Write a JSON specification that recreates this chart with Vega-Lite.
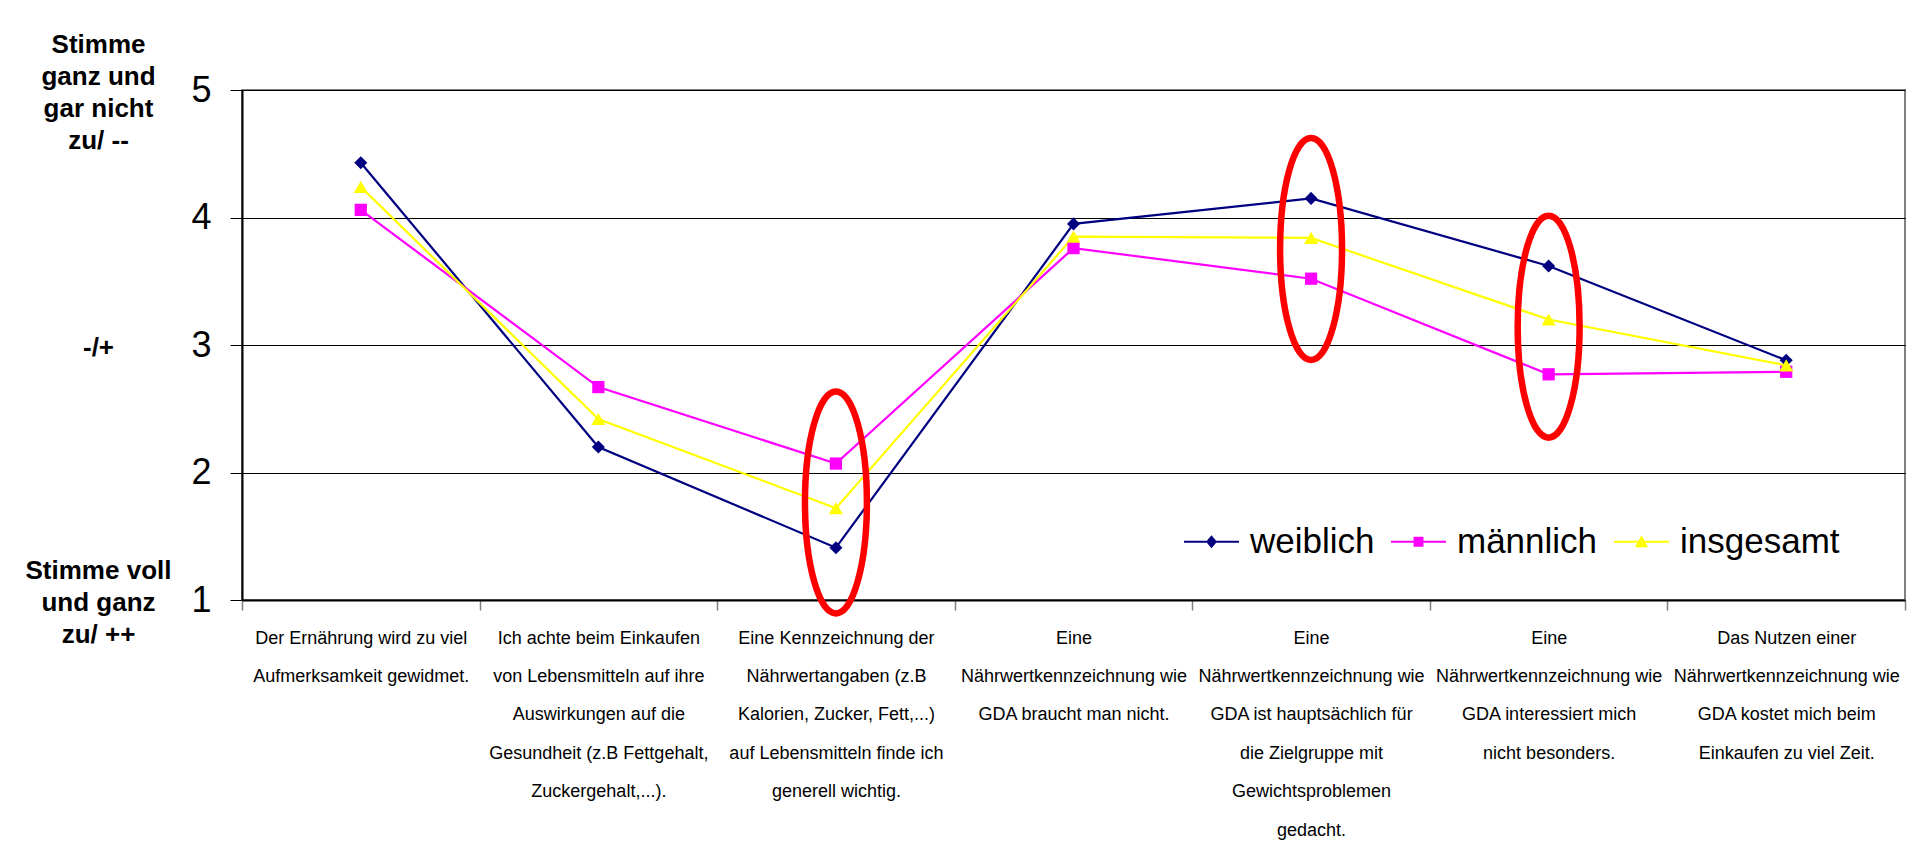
{
  "$schema": "https://vega.github.io/schema/vega-lite/v6.json",
  "width": 1663,
  "height": 510,
  "autosize": {"type": "none"},
  "padding": {"left": 242, "top": 90, "right": 26, "bottom": 249},
  "background": "white",
  "config": {
    "font": "Liberation Sans",
    "view": {"stroke": "#808080", "strokeWidth": 2},
    "axis": {"labelColor": "#000000", "domainColor": "#000000", "tickColor": "#000000", "gridColor": "#000000", "titleColor": "#000000"}
  },
  "datasets": {
    "werte": [
      {"aussage": "Der Ernährung wird zu viel\nAufmerksamkeit gewidmet.", "gruppe": "weiblich", "wert": 4.43},
      {"aussage": "Der Ernährung wird zu viel\nAufmerksamkeit gewidmet.", "gruppe": "männlich", "wert": 4.06},
      {"aussage": "Der Ernährung wird zu viel\nAufmerksamkeit gewidmet.", "gruppe": "insgesamt", "wert": 4.24},
      {"aussage": "Ich achte beim Einkaufen\nvon Lebensmitteln auf ihre\nAuswirkungen auf die\nGesundheit (z.B Fettgehalt,\nZuckergehalt,...).", "gruppe": "weiblich", "wert": 2.2},
      {"aussage": "Ich achte beim Einkaufen\nvon Lebensmitteln auf ihre\nAuswirkungen auf die\nGesundheit (z.B Fettgehalt,\nZuckergehalt,...).", "gruppe": "männlich", "wert": 2.67},
      {"aussage": "Ich achte beim Einkaufen\nvon Lebensmitteln auf ihre\nAuswirkungen auf die\nGesundheit (z.B Fettgehalt,\nZuckergehalt,...).", "gruppe": "insgesamt", "wert": 2.42},
      {"aussage": "Eine Kennzeichnung der\nNährwertangaben (z.B\nKalorien, Zucker, Fett,...)\nauf Lebensmitteln finde ich\ngenerell wichtig.", "gruppe": "weiblich", "wert": 1.41},
      {"aussage": "Eine Kennzeichnung der\nNährwertangaben (z.B\nKalorien, Zucker, Fett,...)\nauf Lebensmitteln finde ich\ngenerell wichtig.", "gruppe": "männlich", "wert": 2.07},
      {"aussage": "Eine Kennzeichnung der\nNährwertangaben (z.B\nKalorien, Zucker, Fett,...)\nauf Lebensmitteln finde ich\ngenerell wichtig.", "gruppe": "insgesamt", "wert": 1.72},
      {"aussage": "Eine\nNährwertkennzeichnung wie\nGDA braucht man nicht.", "gruppe": "weiblich", "wert": 3.95},
      {"aussage": "Eine\nNährwertkennzeichnung wie\nGDA braucht man nicht.", "gruppe": "männlich", "wert": 3.76},
      {"aussage": "Eine\nNährwertkennzeichnung wie\nGDA braucht man nicht.", "gruppe": "insgesamt", "wert": 3.85},
      {"aussage": "Eine\nNährwertkennzeichnung wie\nGDA ist hauptsächlich für\ndie Zielgruppe mit\nGewichtsproblemen\ngedacht.", "gruppe": "weiblich", "wert": 4.15},
      {"aussage": "Eine\nNährwertkennzeichnung wie\nGDA ist hauptsächlich für\ndie Zielgruppe mit\nGewichtsproblemen\ngedacht.", "gruppe": "männlich", "wert": 3.52},
      {"aussage": "Eine\nNährwertkennzeichnung wie\nGDA ist hauptsächlich für\ndie Zielgruppe mit\nGewichtsproblemen\ngedacht.", "gruppe": "insgesamt", "wert": 3.84},
      {"aussage": "Eine \nNährwertkennzeichnung wie\nGDA interessiert mich\nnicht besonders.", "gruppe": "weiblich", "wert": 3.62},
      {"aussage": "Eine \nNährwertkennzeichnung wie\nGDA interessiert mich\nnicht besonders.", "gruppe": "männlich", "wert": 2.77},
      {"aussage": "Eine \nNährwertkennzeichnung wie\nGDA interessiert mich\nnicht besonders.", "gruppe": "insgesamt", "wert": 3.2},
      {"aussage": "Das Nutzen einer\nNährwertkennzeichnung wie\nGDA kostet mich beim\nEinkaufen zu viel Zeit.", "gruppe": "weiblich", "wert": 2.88},
      {"aussage": "Das Nutzen einer\nNährwertkennzeichnung wie\nGDA kostet mich beim\nEinkaufen zu viel Zeit.", "gruppe": "männlich", "wert": 2.79},
      {"aussage": "Das Nutzen einer\nNährwertkennzeichnung wie\nGDA kostet mich beim\nEinkaufen zu viel Zeit.", "gruppe": "insgesamt", "wert": 2.84}
    ],
    "markierungen": [
      {"aussage": "Eine Kennzeichnung der\nNährwertangaben (z.B\nKalorien, Zucker, Fett,...)\nauf Lebensmitteln finde ich\ngenerell wichtig.", "wert": 1.765},
      {"aussage": "Eine\nNährwertkennzeichnung wie\nGDA ist hauptsächlich für\ndie Zielgruppe mit\nGewichtsproblemen\ngedacht.", "wert": 3.753},
      {"aussage": "Eine \nNährwertkennzeichnung wie\nGDA interessiert mich\nnicht besonders.", "wert": 3.144}
    ],
    "skala": [
      {"stufe": "Stimme\nganz und\ngar nicht\nzu/ --"},
      {"stufe": "-/+"},
      {"stufe": "Stimme voll\nund ganz\nzu/ ++"}
    ]
  },
  "layer": [
    {
      "encoding": {
        "x": {
          "field": "aussage",
          "type": "nominal",
          "sort": null,
          "scale": {"type": "band", "paddingInner": 0, "paddingOuter": 0},
          "axis": {
            "title": null,
            "labelAngle": 0,
            "labelExpr": "split(datum.label, '\\n')",
            "labelFontSize": 18,
            "labelLineHeight": 38.4,
            "labelBaseline": "top",
            "labelPadding": 19,
            "labelLimit": 300,
            "labelOverlap": false,
            "tickBand": "extent",
            "tickSize": 10,
            "tickColor": "#808080",
            "tickWidth": 1.5,
            "domainWidth": 2,
            "grid": false
          }
        }
      },
      "layer": [
        {
          "data": {"name": "werte"},
          "mark": {"type": "line", "strokeWidth": 2.2},
          "encoding": {
            "y": {
              "field": "wert",
              "type": "quantitative",
              "scale": {"domain": [1, 5], "nice": false, "zero": false},
              "axis": {
                "title": null,
                "values": [1, 2, 3, 4, 5],
                "format": "d",
                "tickSize": 12,
                "labelFontSize": 36,
                "labelPadding": 19,
                "labelFlush": false,
                "grid": true,
                "gridWidth": 1,
                "domainWidth": 2
              }
            },
            "color": {
              "field": "gruppe",
              "type": "nominal",
              "scale": {"domain": ["weiblich", "männlich", "insgesamt"], "range": ["#000080", "#FF00FF", "#FFFF00"]},
              "legend": {
                "orient": "none",
                "legendX": 942,
                "legendY": 424,
                "direction": "horizontal",
                "title": null,
                "padding": 0,
                "labelFontSize": 35,
                "labelColor": "#000000",
                "labelOffset": 11,
                "columnPadding": 16,
                "symbolSize": 3025,
                "symbolStrokeWidth": 0,
                "symbolOpacity": 1
              }
            }
          }
        },
        {
          "data": {"name": "werte"},
          "transform": [{"filter": "datum.gruppe === 'weiblich'"}],
          "mark": {"type": "point", "filled": true, "size": 170, "shape": "diamond", "opacity": 1},
          "encoding": {
            "y": {"field": "wert", "type": "quantitative"},
            "color": {"field": "gruppe", "type": "nominal"}
          }
        },
        {
          "data": {"name": "werte"},
          "transform": [{"filter": "datum.gruppe === 'männlich'"}],
          "mark": {"type": "point", "filled": true, "size": 150, "shape": "square", "opacity": 1},
          "encoding": {
            "y": {"field": "wert", "type": "quantitative"},
            "color": {"field": "gruppe", "type": "nominal"}
          }
        },
        {
          "data": {"name": "werte"},
          "transform": [{"filter": "datum.gruppe === 'insgesamt'"}],
          "mark": {"type": "point", "filled": true, "size": 196, "shape": "triangle-up", "opacity": 1},
          "encoding": {
            "y": {"field": "wert", "type": "quantitative"},
            "color": {"field": "gruppe", "type": "nominal"}
          }
        },
        {
          "data": {"name": "werte"},
          "mark": {"type": "point", "filled": true, "size": 0, "opacity": 1},
          "encoding": {
            "y": {"field": "wert", "type": "quantitative"},
            "color": {"field": "gruppe", "type": "nominal"},
            "shape": {
              "field": "gruppe",
              "type": "nominal",
              "scale": {
                "domain": ["weiblich", "männlich", "insgesamt"],
                "range": [
                  "M-1,-0.036H1V0.036H-1ZM0,-0.24L0.2,0L0,0.24L-0.2,0Z",
                  "M-1,-0.036H1V0.036H-1ZM-0.18,-0.18H0.18V0.18H-0.18Z",
                  "M-1,-0.036H1V0.036H-1ZM0,-0.24L0.24,0.2H-0.24Z"
                ]
              },
              "legend": {"title": null}
            }
          }
        },
        {
          "data": {"name": "markierungen"},
          "mark": {
            "type": "point",
            "shape": "M0,-1C0.154,-1 0.279,-0.552 0.279,0C0.279,0.552 0.154,1 0,1C-0.154,1 -0.279,0.552 -0.279,0C-0.279,-0.552 -0.154,-1 0,-1Z",
            "size": 49284,
            "filled": false,
            "stroke": "#FF0000",
            "strokeWidth": 6.5,
            "opacity": 1
          },
          "encoding": {
            "y": {"field": "wert", "type": "quantitative"}
          }
        }
      ]
    },
    {
      "data": {"name": "skala"},
      "mark": {"type": "point", "opacity": 0},
      "encoding": {
        "y": {
          "field": "stufe",
          "type": "nominal",
          "sort": null,
          "scale": {"type": "point", "padding": 0},
          "axis": {
            "orient": "left",
            "offset": 144,
            "title": null,
            "domain": false,
            "ticks": false,
            "grid": false,
            "labelPadding": 0,
            "labelAlign": "center",
            "labelBaseline": "middle",
            "labelFontSize": 26,
            "labelFontWeight": "bold",
            "labelLineHeight": 16,
            "labelOffset": -46,
            "labelLimit": 300,
            "labelOverlap": false,
            "labelExpr": "split(slice('\u2800\\n\u2800\\n\u2800\\n', 0, 2 * (4 - length(split(datum.label, '\\n')))) + replace(datum.label, regexp('\\n', 'g'), '\\n\u2800\\n'), '\\n')"
          }
        }
      }
    }
  ],
  "resolve": {"scale": {"y": "independent"}, "axis": {"y": "independent"}}
}
